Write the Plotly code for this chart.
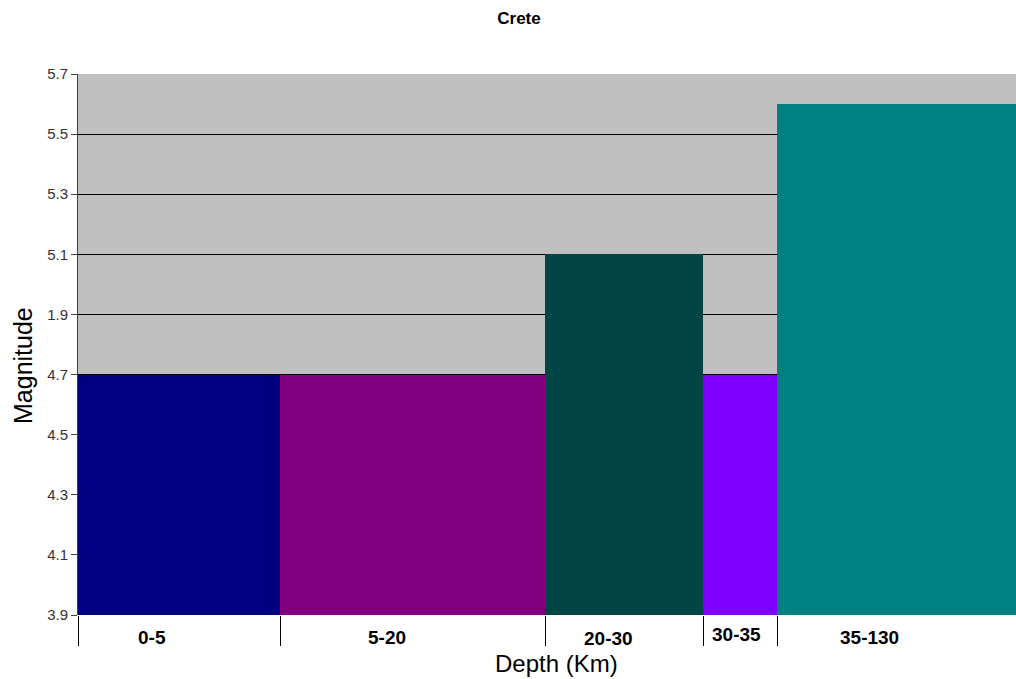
import plotly.graph_objects as go

# Crete: maximum magnitude per depth band
depth_bands = ["0-5", "5-20", "20-30", "30-35", "35-130"]
magnitudes = [4.7, 4.7, 5.1, 4.7, 5.6]
band_spans = [202, 265, 158, 74, 239]  # relative column widths
bar_colors = ["#000080", "#800080", "#024545", "#8000ff", "#008080"]

y_ticks = [3.9, 4.1, 4.3, 4.5, 4.7, 4.9, 5.1, 5.3, 5.5, 5.7]
y_tick_text = ["3.9", "4.1", "4.3", "4.5", "4.7", "1.9", "5.1", "5.3", "5.5", "5.7"]

# label nudges (in x units) and vertical offsets (px) for the category labels
label_shift = [-27, -26, -16, -4, -27]
label_dy = [0, 0, 1, -3, 0]

starts = []
acc = 0
for w in band_spans:
    starts.append(acc)
    acc += w
total = acc
centers = [s + w / 2 for s, w in zip(starts, band_spans)]

FONT = "Arial, Liberation Sans, sans-serif"

fig = go.Figure()
fig.add_trace(go.Bar(
    x=centers,
    y=magnitudes,
    width=band_spans,
    marker=dict(color=bar_colors, line=dict(width=0)),
    hoverinfo="skip",
))

for c, lab, sh, dy in zip(centers, depth_bands, label_shift, label_dy):
    fig.add_annotation(
        x=c + sh, y=0, xref="x", yref="paper",
        text=f"<b>{lab}</b>", showarrow=False,
        yanchor="middle", yshift=-22 - dy,
        font=dict(family=FONT, size=19, color="#000000"),
    )

# axis titles
fig.add_annotation(
    x=(556 - 78) / 938, y=-48 / 541, xref="paper", yref="paper",
    text="Depth (Km)", showarrow=False, xanchor="center", yanchor="middle",
    font=dict(family=FONT, size=24, color="#000000"),
)
fig.add_annotation(
    x=-55 / 938, y=(615 - 366) / 541, xref="paper", yref="paper",
    text="Magnitude", showarrow=False, textangle=-90,
    xanchor="center", yanchor="middle",
    font=dict(family=FONT, size=25, color="#000000"),
)

fig.update_layout(
    width=1016, height=679,
    margin=dict(l=78, r=0, t=74, b=64),
    paper_bgcolor="#ffffff",
    plot_bgcolor="#c0c0c0",
    showlegend=False,
    bargap=0,
    title=dict(
        text="<b>Crete</b>", x=(519 - 78) / 938, xref="paper",
        xanchor="center", y=1 - 18 / 679, yanchor="middle",
        font=dict(family=FONT, size=17, color="#000000"),
    ),
    font=dict(family=FONT),
)

fig.update_xaxes(
    range=[0, total],
    tickvals=starts,
    ticktext=[""] * len(starts),
    ticks="outside", ticklen=30, tickwidth=1, tickcolor="#000000",
    showgrid=False, zeroline=False,
    showline=False,
)

fig.update_yaxes(
    range=[3.9, 5.7],
    tickvals=y_ticks,
    ticktext=y_tick_text,
    ticks="outside", ticklen=6, tickcolor="#404040",
    tickfont=dict(size=15, color="#333333"),
    showgrid=True, gridcolor="#000000", gridwidth=1,
    zeroline=False,
    showline=True, linecolor="#404040", linewidth=1,
)

fig.write_html("out.html")
